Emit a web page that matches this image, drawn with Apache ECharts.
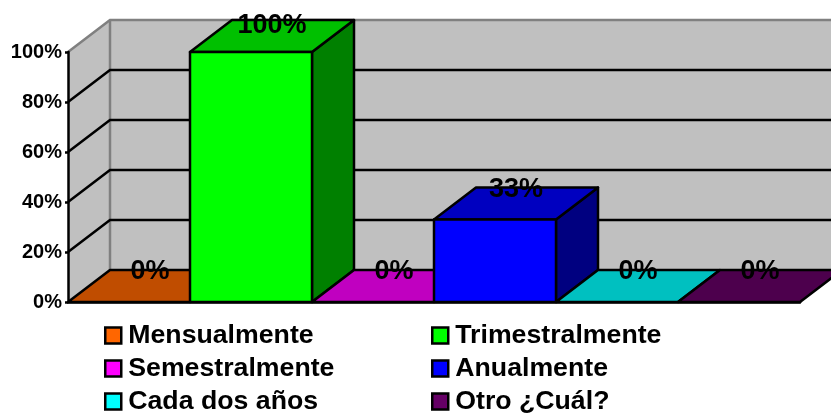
<!DOCTYPE html>
<html>
<head>
<meta charset="utf-8">
<style>html,body{margin:0;padding:0;background:#fff}#c{width:831px;height:413px}</style>
<script src="https://cdn.jsdelivr.net/npm/echarts@6/dist/echarts.min.js"></script>
</head>
<body>
<div id="c"></div>
<script>
const categories = ['Mensualmente','Trimestralmente','Semestralmente','Anualmente','Cada dos años','Otro ¿Cuál?'];
const values = [0,100,0,33,0,0];
const frontColors = ['#FF6600','#00FF00','#FF00FF','#0000FF','#00FFFF','#660066'];
const topColors = ['#C04D00','#00C000','#C000C0','#0000C0','#00C0C0','#4D004D'];
const sideColors = ['#803300','#008000','#800080','#000080','#008080','#330033'];
const yTicks = [20,40,60,80,100];
const leftLegend = ['Mensualmente','Semestralmente','Cada dos años'];
const rightLegend = ['Trimestralmente','Anualmente','Otro ¿Cuál?'];

const DX = 42, DY = 32;
const LW = 2.5;
const LABEL_MIN_Y = 26;
const FONT = '"Liberation Sans", Arial, sans-serif';
const wallColor = '#C0C0C0', wallEdge = '#808080';

const chart = echarts.init(document.getElementById('c'), null, {renderer:'canvas'});

function wallSeries(){
  return {
    type:'custom', name:'walls', z:1, silent:true, data:[[0,0]],
    renderItem(params, api){
      const o = api.coord([0,0]);
      const band = api.size([1,0])[0];
      const x0 = o[0]-band/2, y0 = o[1];
      const top = api.coord([0,100])[1];
      const x1 = x0 + band*categories.length;
      return {type:'group', children:[
        {type:'polygon', shape:{points:[[x0,top],[x0+DX,top-DY],[x0+DX,y0-DY],[x0,y0]]},
          style:{fill:wallColor, stroke:null}},
        {type:'polygon', shape:{points:[[x0+DX,top-DY],[x1+DX,top-DY],[x1+DX,y0-DY],[x0+DX,y0-DY]]},
          style:{fill:wallColor, stroke:null}},
        {type:'polyline', shape:{points:[[x0,top],[x0+DX,top-DY],[x1+DX,top-DY]]},
          style:{fill:null, stroke:wallEdge, lineWidth:LW}},
        {type:'line', shape:{x1:x0+DX,y1:top-DY,x2:x0+DX,y2:y0-DY},
          style:{stroke:wallEdge, lineWidth:LW}}
      ]};
    }
  };
}

function gridSeries(){
  return {
    type:'custom', name:'gridlines', z:2, silent:true,
    data:yTicks.filter(t=>t<100).map(t=>[0,t]),
    renderItem(params, api){
      const p = api.coord([0,api.value(1)]);
      const band = api.size([1,0])[0];
      const x0 = p[0]-band/2, y = p[1];
      const x1 = x0 + band*categories.length;
      return {type:'polyline', shape:{points:[[x0,y],[x0+DX,y-DY],[x1+DX,y-DY]]},
        style:{fill:null, stroke:'#000', lineWidth:LW}};
    }
  };
}

function barSeries(i){
  return {
    type:'custom', name:categories[i], z:3+i, silent:true,
    itemStyle:{color:frontColors[i]},
    data:[[i,values[i]]],
    renderItem(params, api){
      const v = api.value(1);
      const c = api.coord([api.value(0),v]);
      const b = api.coord([api.value(0),0]);
      const band = api.size([1,0])[0];
      const l = c[0]-band/2, r = c[0]+band/2, t = c[1], y0 = b[1];
      const edge = {stroke:'#000', lineWidth:LW, lineJoin:'round'};
      const kids = [];
      if (v > 0) {
        kids.push({type:'polygon', shape:{points:[[r,y0],[r+DX,y0-DY],[r+DX,t-DY],[r,t]]},
          style:Object.assign({fill:sideColors[i]},edge)});
      }
      kids.push({type:'polygon', shape:{points:[[l,t],[r,t],[r+DX,t-DY],[l+DX,t-DY]]},
        style:Object.assign({fill:topColors[i]},edge)});
      if (v > 0) {
        kids.push({type:'rect', shape:{x:l,y:t,width:r-l,height:y0-t},
          style:Object.assign({fill:frontColors[i]},edge)});
      }
      return {type:'group', children:kids};
    }
  };
}

function labelSeries(){
  return {
    type:'custom', name:'labels', z:20, silent:true,
    data:values.map((v,i)=>[i,v]),
    renderItem(params, api){
      const v = api.value(1);
      const c = api.coord([api.value(0),v]);
      return {type:'text', style:{
        text:v+'%', x:c[0]+DX/2, y:Math.max(c[1]-DY+2, LABEL_MIN_Y),
        align:'center', verticalAlign:'middle',
        font:'bold 27px '+FONT, fill:'#000'
      }};
    }
  };
}

function legendAt(left, names){
  return {
    show:true, orient:'vertical', left:left, top:322, height:130, padding:0, data:names,
    icon:'rect', itemWidth:16, itemHeight:16, itemGap:6,
    selectedMode:false,
    itemStyle:{borderColor:'#000', borderWidth:2.5},
    textStyle:{fontFamily:FONT, fontWeight:'bold', fontSize:26.7, color:'#000', padding:[0,0,0,2], lineHeight:27}
  };
}

chart.setOption({
  animation:false,
  backgroundColor:'#fff',
  grid:{left:68, right:31, top:52, bottom:111, containLabel:false},
  tooltip:{show:false},
  legend:[legendAt(104,leftLegend), legendAt(431,rightLegend)],
  xAxis:{type:'category', data:categories, z:10,
    axisLine:{show:true, lineStyle:{color:'#000', width:LW}},
    axisTick:{show:false}, axisLabel:{show:false}, splitLine:{show:false}},
  yAxis:{type:'value', min:0, max:100, interval:20, z:10,
    axisLine:{show:true, lineStyle:{color:'#000', width:LW}},
    axisTick:{show:true, length:3, lineStyle:{color:'#000', width:LW}},
    splitLine:{show:false},
    axisLabel:{formatter:'{value}%', margin:6, color:'#000', fontFamily:FONT, fontWeight:'bold', fontSize:20}},
  series:[wallSeries(), gridSeries()].concat(categories.map((_,i)=>barSeries(i)), [labelSeries()])
});
</script>
</body>
</html>
